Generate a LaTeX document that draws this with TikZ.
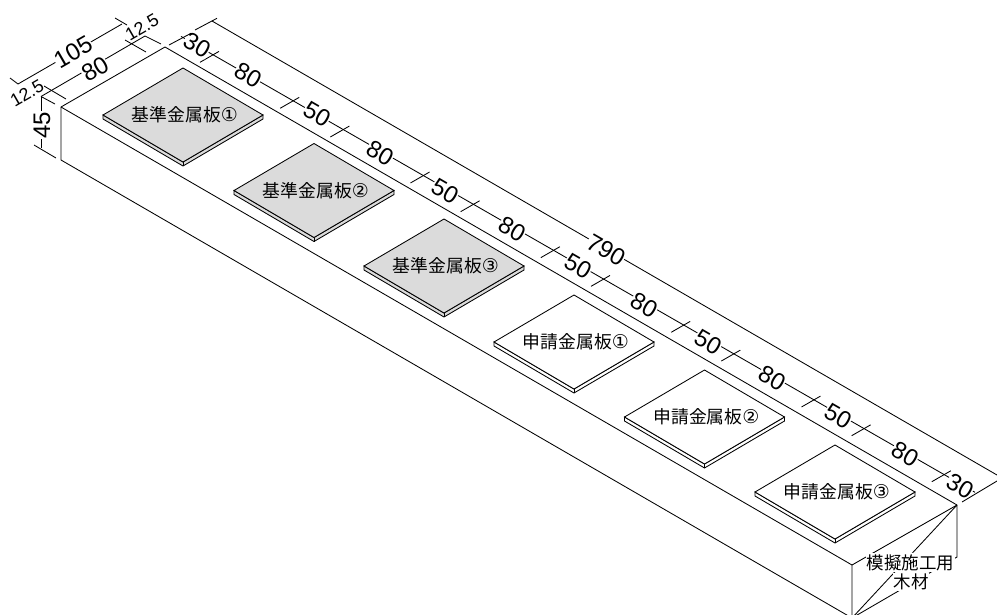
\documentclass[tikz,border=0pt]{standalone}
\usepackage{fontspec}
\setmainfont{Liberation Sans}
\newfontfamily\cjk{Noto Sans CJK JP}
\newfontfamily\circfont{DejaVu Sans}
\usetikzlibrary{calc}
\tikzset{
  ln/.style={draw=black,line width=0.85pt,line cap=butt},
  dimtext/.style={inner sep=0.3pt,fill=white,font=\fontsize{24}{24}\selectfont},
  smalldim/.style={inner sep=0.2pt,fill=white,font=\fontsize{18}{18}\selectfont},
  platetext/.style={inner sep=0pt,font=\cjk\fontsize{17.8}{18}\selectfont},
  notetext/.style={inner xsep=0.5pt,inner ysep=1pt,fill=white,font=\cjk\fontsize{17.5}{18}\selectfont},
  gray plate/.style={ln,fill=black!14},
  white plate/.style={ln,fill=white}
}
\newcommand{\myplate}[6]{%
  \begin{scope}[shift={(#2,#3)}]
    \path[#4] (-80,47) -- (-80,51) -- (0,98) -- (80,51) -- (80,47) -- (0,94) -- cycle;
    \path[#4] (0,0) -- (80,47) -- (0,94) -- (-80,47) -- cycle;
    \draw[ln] (0,94) -- (0,98);
    \node[platetext] (#1) at (2,47) {#5{\circfont\fontsize{19}{18}\selectfont #6}};
  \end{scope}}
\begin{document}
\begin{tikzpicture}[x=1pt,y=-1pt]
\useasboundingbox (0,0) rectangle (997,614);
\fill[white] (0,0) rectangle (997,614);
\begin{scope}
\clip (0,0) rectangle (997,614);
% timber block
\coordinate (A) at (165,47);
\coordinate (B) at (957,505);
\coordinate (C) at (852,565);
\coordinate (D) at (61,107);
\coordinate (E) at (61,160);
\coordinate (F) at (852,618);
\coordinate (G) at (957,557);
\draw[ln,line join=round] (A) -- (B) -- (C) -- (D) -- cycle;
\draw[ln] (D) -- (E) -- (F) -- (C);
\draw[ln] (B) -- (G) -- (F) -- (B);
% dimensions: width side
\coordinate (w1) at (18,84); \coordinate (w2) at (122,24);
\coordinate (n1) at (41,96.5); \coordinate (n2) at (145,36);
\draw[ln] (w1) -- (w2);
\draw[ln] (n1) -- (n2);
\draw[ln] (10,78) -- (w1);
\draw[ln] (115,18) -- (127,25);
\draw[ln] (44,86) -- (66,99);
\draw[ln] (125,40) -- (146,52);
\draw[ln] (n1) -- (55,104);
\draw[ln] (n2) -- (161,44);
% height
\coordinate (h2) at (41,148);
\draw[ln] (n1) -- (h2);
\draw[ln] (34,145) -- (56,158);
% long dims
\coordinate (o1) at (212,21); \coordinate (o2) at (997,475);
\draw[ln] (o1) -- (o2);
\coordinate (i1) at (181,36.4); \coordinate (i2) at (975,492.3);
\draw[ln] (i1) -- (i2);
\foreach \k in {30,110,160,240,290,370,420,500,550,630,680,760}{
  \draw[ln] ($(213,54.8)+({(\k-30)*1.0025},{(\k-30)*0.5745})$) ++(-13,7.5) -- ++(19,-10.9);
}
% plates
\myplate{p1}{183}{68}{gray plate}{基準金属板}{①}
\myplate{p2}{314}{143.5}{gray plate}{基準金属板}{②}
\myplate{p3}{444}{219}{gray plate}{基準金属板}{③}
\myplate{p4}{574}{295}{white plate}{申請金属板}{①}
\myplate{p5}{704.5}{370}{white plate}{申請金属板}{②}
\myplate{p6}{835}{445}{white plate}{申請金属板}{③}
% long labels
\foreach \x/\y/\t/\n in {197/45/30/a,248/75/80/b,317/114/50/c,380/153/80/d,445/191/50/e,512/229/80/f,578/266/50/g,644/305/80/h,708/342/50/i,772/378/80/j,838/416/50/k,905/454/80/l,960/486/30/m,606/250/790/n}{
  \node[dimtext,rotate=-30] (L\n) at (\x,\y) {\t};
}
\draw[ln] (169,45) -- (191,33.3);
\draw[ln] (195,30) -- (217,18.3);
\draw[ln] (962,502) -- (997,481);
\node[dimtext,rotate=30] (W105) at (73,52) {105};
\node[dimtext,rotate=30] (W80) at (95,69) {80};
\node[smalldim,rotate=30] (W1) at (27,93) {12.5};
\node[smalldim,rotate=30] (W2) at (142,27) {12.5};
\node[dimtext,rotate=90] (H45) at (42,125) {45};
\node[notetext] (note1) at (910.5,562.5) {模擬施工用};
\node[notetext] (note2) at (911,582) {木材};
\end{scope}
\end{tikzpicture}
\end{document}
